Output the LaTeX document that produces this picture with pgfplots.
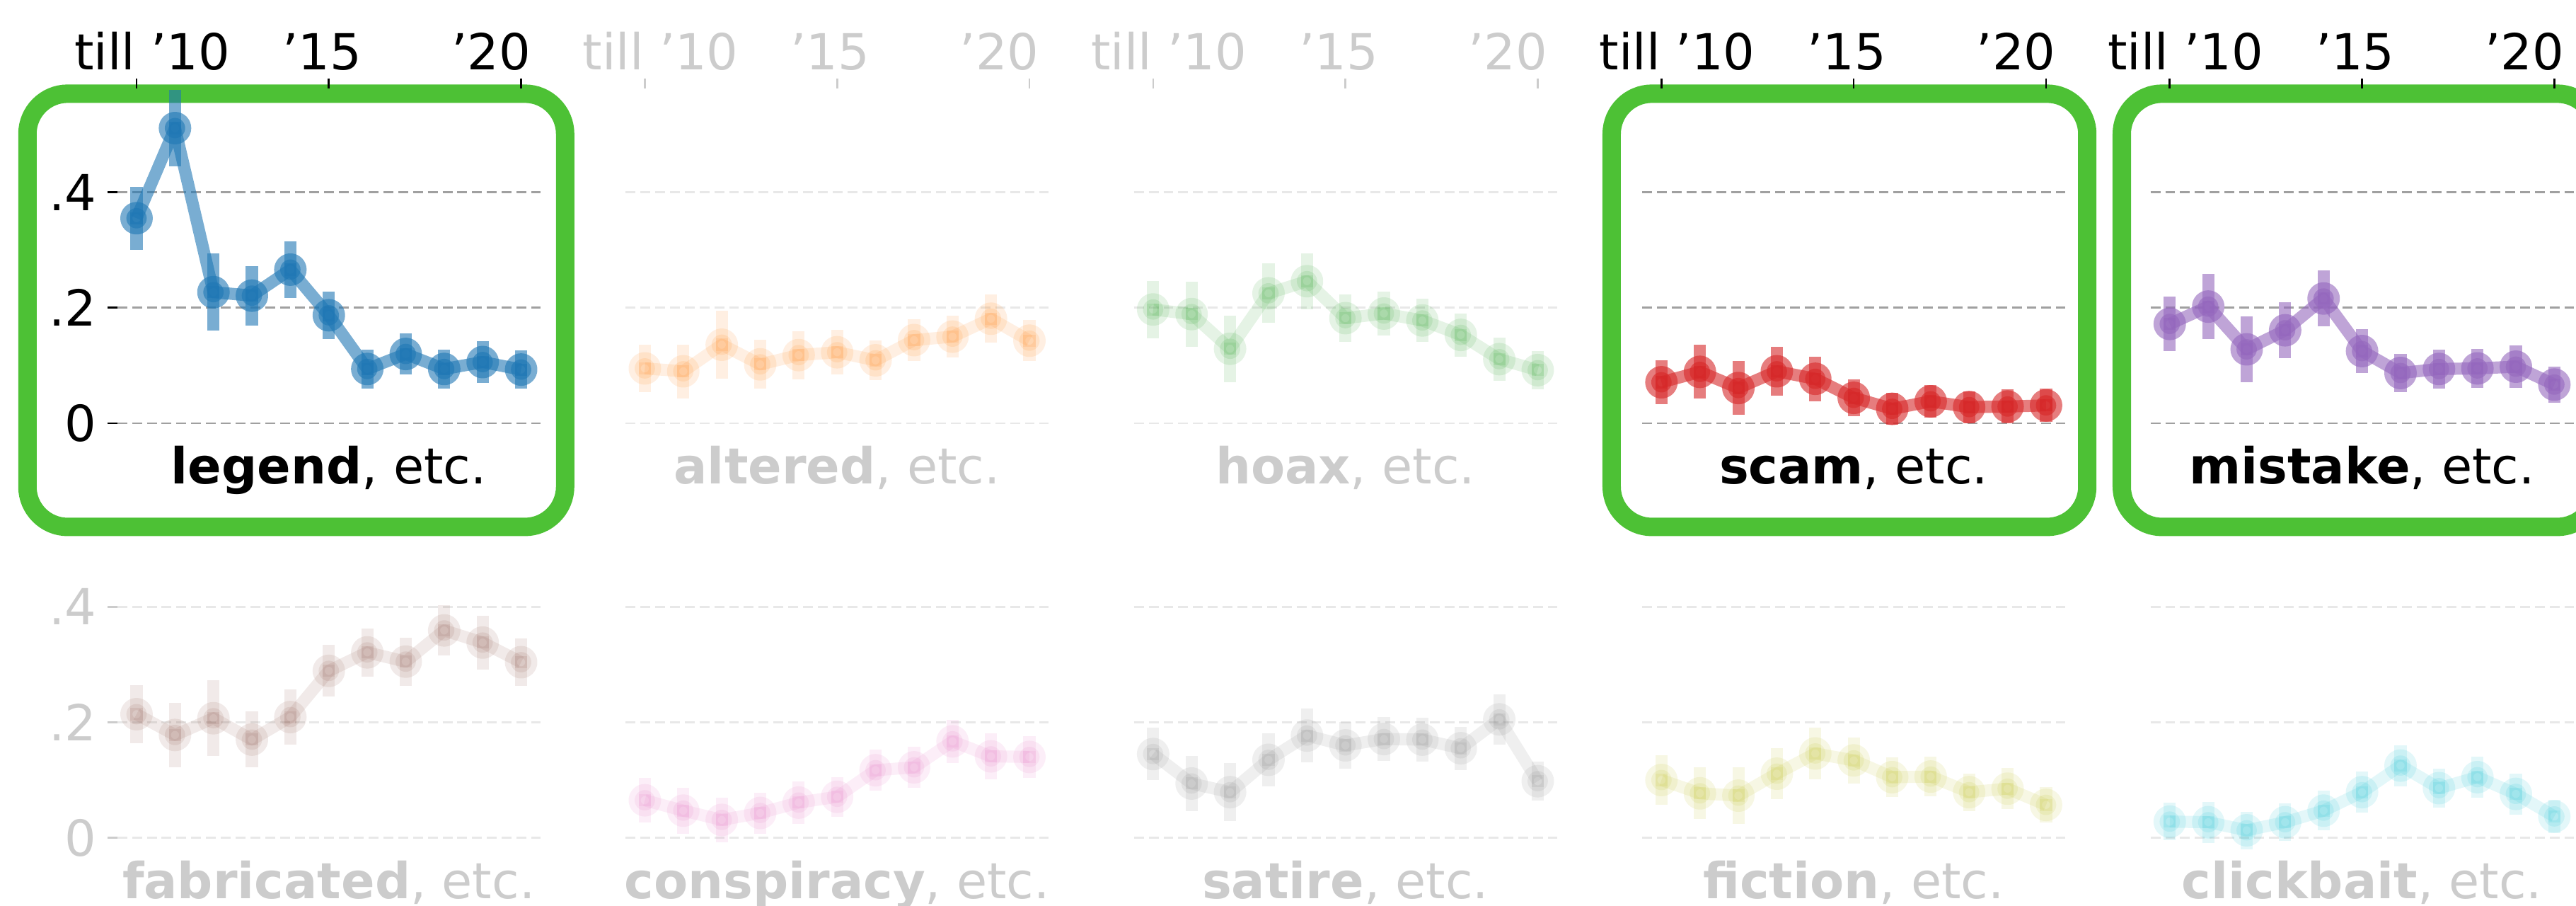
\documentclass[border=0pt]{standalone}
\usepackage{fontspec}
\setmainfont{DejaVu Sans}
\usepackage{pgfplots}
\usepackage{pgfplotstable}
\pgfplotsset{compat=1.18}

\definecolor{boxgreen}{RGB}{77,193,53}
\definecolor{hlgrid}{RGB}{160,160,160}
\definecolor{fdgrid}{RGB}{232,232,232}
\definecolor{fdtext}{RGB}{204,204,204}
\definecolor{tabblue}{RGB}{31,119,180}
\definecolor{taborange}{RGB}{255,127,14}
\definecolor{tabgreen}{RGB}{44,160,44}
\definecolor{tabred}{RGB}{214,39,40}
\definecolor{tabpurple}{RGB}{148,103,189}
\definecolor{tabbrown}{RGB}{140,86,75}
\definecolor{tabpink}{RGB}{227,119,194}
\definecolor{tabgray}{RGB}{127,127,127}
\definecolor{tabolive}{RGB}{188,189,34}
\definecolor{tabcyan}{RGB}{23,190,207}

% share of posts per year, with error
\pgfplotstableread{
x y e
2010 0.355 0.044
2011 0.511 0.056
2012 0.227 0.056
2013 0.221 0.041
2014 0.266 0.039
2015 0.187 0.031
2016 0.094 0.023
2017 0.120 0.025
2018 0.094 0.023
2019 0.106 0.026
2020 0.093 0.023
}\tLegend
\pgfplotstableread{
x y e
2010 0.095 0.031
2011 0.090 0.036
2012 0.136 0.048
2013 0.102 0.032
2014 0.118 0.031
2015 0.123 0.028
2016 0.109 0.024
2017 0.144 0.026
2018 0.150 0.026
2019 0.181 0.031
2020 0.143 0.025
}\tAltered
\pgfplotstableread{
x y e
2010 0.197 0.039
2011 0.189 0.046
2012 0.129 0.047
2013 0.225 0.041
2014 0.246 0.038
2015 0.182 0.031
2016 0.190 0.028
2017 0.178 0.027
2018 0.153 0.027
2019 0.111 0.027
2020 0.092 0.023
}\tHoax
\pgfplotstableread{
x y e
2010 0.071 0.028
2011 0.089 0.036
2012 0.061 0.036
2013 0.090 0.032
2014 0.077 0.028
2015 0.044 0.021
2016 0.025 0.017
2017 0.038 0.018
2018 0.028 0.017
2019 0.029 0.019
2020 0.031 0.018
}\tScam
\pgfplotstableread{
x y e
2010 0.172 0.037
2011 0.202 0.046
2012 0.128 0.047
2013 0.161 0.038
2014 0.216 0.038
2015 0.125 0.028
2016 0.087 0.023
2017 0.094 0.023
2018 0.095 0.023
2019 0.098 0.026
2020 0.067 0.021
}\tMistake
\pgfplotstableread{
x y e
2010 0.214 0.040
2011 0.178 0.045
2012 0.207 0.055
2013 0.170 0.038
2014 0.209 0.037
2015 0.289 0.034
2016 0.321 0.031
2017 0.305 0.031
2018 0.359 0.033
2019 0.338 0.036
2020 0.304 0.031
}\tFabricated
\pgfplotstableread{
x y e
2010 0.065 0.028
2011 0.047 0.029
2012 0.031 0.028
2013 0.043 0.025
2014 0.061 0.026
2015 0.071 0.024
2016 0.117 0.025
2017 0.122 0.025
2018 0.167 0.027
2019 0.141 0.029
2020 0.140 0.026
}\tConspiracy
\pgfplotstableread{
x y e
2010 0.145 0.035
2011 0.094 0.037
2012 0.079 0.040
2013 0.135 0.036
2014 0.177 0.036
2015 0.160 0.030
2016 0.171 0.027
2017 0.170 0.027
2018 0.155 0.027
2019 0.205 0.033
2020 0.098 0.023
}\tSatire
\pgfplotstableread{
x y e
2010 0.100 0.032
2011 0.077 0.034
2012 0.073 0.039
2013 0.111 0.034
2014 0.146 0.034
2015 0.134 0.029
2016 0.105 0.024
2017 0.106 0.024
2018 0.079 0.022
2019 0.085 0.025
2020 0.057 0.020
}\tFiction
\pgfplotstableread{
x y e
2010 0.028 0.022
2011 0.027 0.025
2012 0.013 0.022
2013 0.027 0.022
2014 0.047 0.024
2015 0.079 0.025
2016 0.125 0.025
2017 0.086 0.023
2018 0.105 0.025
2019 0.076 0.025
2020 0.037 0.018
}\tClickbait

\pgfplotsset{
  panel/.style={anchor=south west, scale only axis, width=25.75mm, height=24.6mm,
    xmin=2009.5, xmax=2020.5, ymin=-0.12, ymax=0.58,
    axis x line*=top, axis y line*=left, axis line style={draw=none},
    tick align=outside, major tick length=0.6mm, tick style={line width=0.33pt},
    xtick={2010,2015,2020}, xticklabels={},
    ytick={0,0.2,0.4}, yticklabels={},
    ymajorgrids, major grid style={dash pattern=on 0.6mm off 0.3mm, line width=0.33pt},
    clip=false},
  hl/.style={tick style={black}, major grid style={hlgrid}, tick label style={text=black}},
  fd/.style={tick style={fdtext}, major grid style={fdgrid}, tick label style={text=fdtext}},
  toprow/.style={extra x ticks={2010.41,2014.82,2019.22},
    extra x tick labels={till ’10,’15,’20},
    extra x tick style={major tick length=0pt}},
  bottomrow/.style={xtick=\empty},
  firstcol/.style={yticklabels={0,.2,.4}, yticklabel style={xshift=0.4mm}},
  othercol/.style={every major y tick/.style={draw=none}},
  hlplot/.style={color=#1, opacity=0.6, line width=2.1pt, line join=round,
    mark=*, mark size=0.62mm, mark options={draw=none, fill=#1, opacity=0.6},
    error bars/.cd, y dir=both, y explicit, error mark=none,
    error bar style={line width=2.1pt, line cap=rect, opacity=0.6}},
  fdplot/.style={color=#1, opacity=0.12, line width=2.1pt, line join=round,
    mark=*, mark size=0.62mm, mark options={draw=none, fill=#1, opacity=0.12},
    error bars/.cd, y dir=both, y explicit, error mark=none,
    error bar style={line width=2.1pt, line cap=rect, opacity=0.12}},
}

\begin{document}
\fontsize{8.6pt}{10pt}\selectfont
\begin{tikzpicture}
\path[use as bounding box] (0,0) rectangle (156.8mm,55.1mm);
\clip (0,0) rectangle (156.8mm,55.1mm);

\draw[boxgreen, line width=1.12mm, rounded corners=2.45mm] (1.67mm,23.04mm) rectangle (34.4mm,49.4mm);
\draw[boxgreen, line width=1.12mm, rounded corners=2.45mm] (98.1mm,23.04mm) rectangle (127.05mm,49.4mm);
\draw[boxgreen, line width=1.12mm, rounded corners=2.45mm] (129.15mm,23.04mm) rectangle (158.1mm,49.4mm);

% top row
\begin{axis}[panel, hl, toprow, firstcol, at={(7.14mm,25.13mm)}]
\addplot[hlplot=tabblue] table[x=x, y=y, y error=e] {\tLegend};
\node[anchor=base, text=black] at (axis cs:2015,-0.105) {\textbf{legend}, etc.};
\end{axis}
\begin{axis}[panel, fd, toprow, othercol, at={(38.08mm,25.13mm)}]
\addplot[fdplot=taborange] table[x=x, y=y, y error=e] {\tAltered};
\node[anchor=base, text=fdtext] at (axis cs:2015,-0.105) {\textbf{altered}, etc.};
\end{axis}
\begin{axis}[panel, fd, toprow, othercol, at={(69.02mm,25.13mm)}]
\addplot[fdplot=tabgreen] table[x=x, y=y, y error=e] {\tHoax};
\node[anchor=base, text=fdtext] at (axis cs:2015,-0.105) {\textbf{hoax}, etc.};
\end{axis}
\begin{axis}[panel, hl, toprow, othercol, at={(99.96mm,25.13mm)}]
\addplot[hlplot=tabred] table[x=x, y=y, y error=e] {\tScam};
\node[anchor=base, text=black] at (axis cs:2015,-0.105) {\textbf{scam}, etc.};
\end{axis}
\begin{axis}[panel, hl, toprow, othercol, at={(130.9mm,25.13mm)}]
\addplot[hlplot=tabpurple] table[x=x, y=y, y error=e] {\tMistake};
\node[anchor=base, text=black] at (axis cs:2015,-0.105) {\textbf{mistake}, etc.};
\end{axis}

% bottom row
\begin{axis}[panel, fd, bottomrow, firstcol, at={(7.14mm,-0.09mm)}]
\addplot[fdplot=tabbrown] table[x=x, y=y, y error=e] {\tFabricated};
\node[anchor=base, text=fdtext] at (axis cs:2015,-0.105) {\textbf{fabricated}, etc.};
\end{axis}
\begin{axis}[panel, fd, bottomrow, othercol, at={(38.08mm,-0.09mm)}]
\addplot[fdplot=tabpink] table[x=x, y=y, y error=e] {\tConspiracy};
\node[anchor=base, text=fdtext] at (axis cs:2015,-0.105) {\textbf{conspiracy}, etc.};
\end{axis}
\begin{axis}[panel, fd, bottomrow, othercol, at={(69.02mm,-0.09mm)}]
\addplot[fdplot=tabgray] table[x=x, y=y, y error=e] {\tSatire};
\node[anchor=base, text=fdtext] at (axis cs:2015,-0.105) {\textbf{satire}, etc.};
\end{axis}
\begin{axis}[panel, fd, bottomrow, othercol, at={(99.96mm,-0.09mm)}]
\addplot[fdplot=tabolive] table[x=x, y=y, y error=e] {\tFiction};
\node[anchor=base, text=fdtext] at (axis cs:2015,-0.105) {\textbf{fiction}, etc.};
\end{axis}
\begin{axis}[panel, fd, bottomrow, othercol, at={(130.9mm,-0.09mm)}]
\addplot[fdplot=tabcyan] table[x=x, y=y, y error=e] {\tClickbait};
\node[anchor=base, text=fdtext] at (axis cs:2015,-0.105) {\textbf{clickbait}, etc.};
\end{axis}
\end{tikzpicture}
\end{document}
